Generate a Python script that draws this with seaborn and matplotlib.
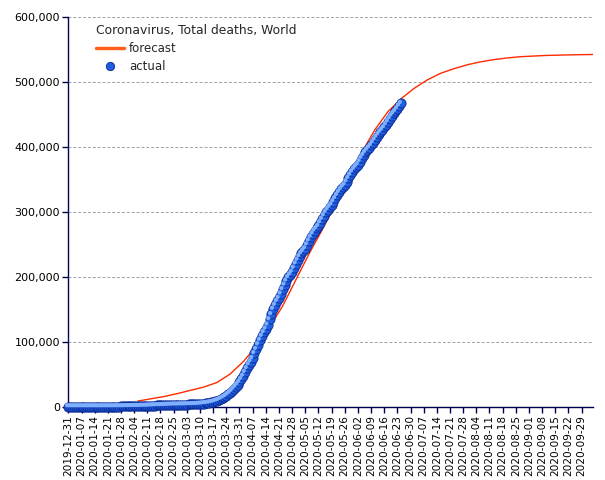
import numpy as np
import pandas as pd
import matplotlib
matplotlib.use("Agg")
import matplotlib.pyplot as plt
from matplotlib.ticker import FuncFormatter
from matplotlib.lines import Line2D
from matplotlib.transforms import offset_copy
import seaborn as sns

# ---- data ----
actual_start = "2019-12-31"
actual_jan = [0] * 11 + [1] * 6 + [2, 3, 3, 4, 6, 9, 17, 25, 41, 56, 80, 106, 132, 170, 213]
actual_feb = [259, 305, 362, 426, 492, 565, 638, 724, 813, 910, 1018, 1115, 1369, 1383, 1526,
              1669, 1775, 1873, 2009, 2126, 2247, 2360, 2460, 2618, 2699, 2763, 2800, 2858, 2923]
actual_mar = [2977, 3050, 3117, 3202, 3285, 3387, 3494, 3599, 3827, 4025, 4296, 4628, 4981, 5428,
              5833, 6520, 7161, 7966, 8987, 10031, 11427, 13059, 14667, 16516, 18941, 21347,
              24115, 27455, 30650, 33926, 37551]
actual_apr = [42103, 46902, 52915, 58814, 64549, 69303, 74351, 81938, 88327, 95442, 102189,
              108449, 114169, 119551, 125922, 134092, 141933, 150017, 156077, 162012, 166815,
              173494, 180316, 187150, 193400, 198927, 202891, 206887, 213222, 220013]
actual_may = [225684, 231124, 235920, 239531, 243158, 249054, 255200, 260773, 266039, 270576,
              274177, 277650, 283210, 288472, 294022, 299186, 303302, 307134, 310689, 315519,
              320329, 325233, 330032, 334154, 338225, 341120, 346232, 351603, 356521, 361345,
              365489]
actual_jun = [369085, 372276, 377208, 382467, 387000, 391500, 395200, 398500, 402000, 406300,
              410700, 415000, 419000, 422800, 426000, 429600, 434200, 438800, 443300, 447500,
              451300, 454800, 458800, 463000, 467000]

forecast_dates = ["2020-02-06", "2020-02-13", "2020-02-20", "2020-02-27", "2020-03-05",
                  "2020-03-12", "2020-03-19", "2020-03-26", "2020-04-02", "2020-04-09",
                  "2020-04-16", "2020-04-23", "2020-04-30", "2020-05-07", "2020-05-14",
                  "2020-05-21", "2020-05-28", "2020-06-04", "2020-06-11", "2020-06-18",
                  "2020-06-25", "2020-07-02", "2020-07-09", "2020-07-16", "2020-07-23",
                  "2020-07-30", "2020-08-06", "2020-08-13", "2020-08-20", "2020-08-27",
                  "2020-09-03", "2020-09-10", "2020-09-17", "2020-09-24", "2020-10-01",
                  "2020-10-05"]
forecast_values = [8500, 12000, 15500, 20000, 25000, 30000, 37000, 50000, 69000, 93000,
                   122000, 155000, 195000, 235000, 272000, 311000, 352000, 391000, 426000,
                   454000, 474000, 490000, 503000, 513000, 520000, 526000, 530500, 534000,
                   536500, 538500, 539500, 540500, 541000, 541500, 541800, 542000]

y_ticks = [0, 100000, 200000, 300000, 400000, 500000, 600000]
x_start, x_end = "2019-12-31", "2020-10-05"
legend_title = "Coronavirus, Total deaths, World"

# ---- frames ----
actual_vals = actual_jan + actual_feb + actual_mar + actual_apr + actual_may + actual_jun
df_act = pd.DataFrame({"date": pd.date_range(actual_start, periods=len(actual_vals), freq="D"),
                       "deaths": actual_vals})
df_fc = pd.DataFrame({"date": pd.to_datetime(forecast_dates), "deaths": forecast_values})

sns.set_theme(style="white")
plt.rcParams["font.family"] = ["DejaVu Sans"]

fig = plt.figure(figsize=(6.05, 4.8), dpi=100)
ax = fig.add_axes([0.113, 0.153, 0.867, 0.812])

sns.lineplot(data=df_fc, x="date", y="deaths", ax=ax, color="#ff2a00", lw=1.0, zorder=3)
sns.scatterplot(data=df_act, x="date", y="deaths", ax=ax, s=44, color="#1f5ee0",
                edgecolor="#0a2890", linewidth=0.6, zorder=4, clip_on=False)
n_before = len(ax.collections)
sns.scatterplot(data=df_act, x="date", y="deaths", ax=ax, s=9, color="#7fb0ff",
                edgecolor="none", linewidth=0, zorder=5, clip_on=False)
hl = ax.collections[n_before]
hl.set_offset_transform(offset_copy(ax.transData, fig=fig, x=-1.3, y=1.3, units="dots"))

ax.set_xlim(pd.Timestamp(x_start), pd.Timestamp(x_end))
ax.set_ylim(y_ticks[0], y_ticks[-1])
ax.set_yticks(y_ticks)
ax.yaxis.set_major_formatter(FuncFormatter(lambda v, p: f"{int(v):,}"))
ticks = pd.date_range(x_start, x_end, freq="7D")
ax.set_xticks(ticks)
ax.set_xticklabels([t.strftime("%Y-%m-%d") for t in ticks], rotation=90)

ax.set_xlabel("")
ax.set_ylabel("")
ax.grid(axis="y", color="#a0a0a0", linestyle=(0, (3, 2)), linewidth=0.7)
ax.grid(axis="x", visible=False)
for s in ["top", "right"]:
    ax.spines[s].set_visible(False)
for s in ["left", "bottom"]:
    ax.spines[s].set_color("#000050")
    ax.spines[s].set_linewidth(1.0)
ax.tick_params(axis="both", which="major", length=4, width=1, color="#000050",
               direction="out", labelcolor="black", pad=2)
ax.tick_params(axis="y", labelsize=8, left=True)
ax.tick_params(axis="x", labelsize=7.6, bottom=True)

handles = [Line2D([0], [0], color="#ff6020", lw=2.5),
           Line2D([0], [0], marker="o", linestyle="none", markersize=6,
                  markerfacecolor="#1f5ee0", markeredgecolor="#0a2890", markeredgewidth=0.6)]
ax.legend(handles, ["forecast", "actual"], title=legend_title, loc="upper left",
          bbox_to_anchor=(0.032, 1.009), frameon=False, fontsize=8.5, title_fontsize=8.9,
          handlelength=2.4, handletextpad=0.4, labelspacing=0.43, alignment="left",
          borderpad=0.4)

fig.savefig("out.png", dpi=100)
